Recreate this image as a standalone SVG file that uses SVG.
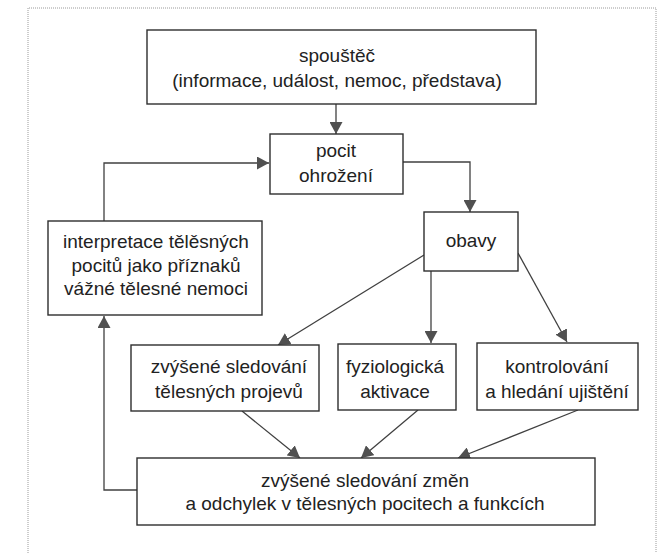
<svg xmlns="http://www.w3.org/2000/svg" width="661" height="553" viewBox="0 0 661 553">
  <style>
    .box { fill: #ffffff; stroke: #2e2e2e; stroke-width: 1.4; }
    .txt { font-family: "Liberation Sans", Arial, sans-serif; font-size: 19px; fill: #222222; text-anchor: middle; }
    .conn { fill: none; stroke: #404040; stroke-width: 1.3; }
    .frame { fill: none; stroke: #9a9a9a; stroke-width: 1; stroke-dasharray: 1 1; }
  </style>
  <defs>
    <marker id="arrow" markerUnits="userSpaceOnUse" viewBox="0 0 12 13" refX="12" refY="6.5" markerWidth="12" markerHeight="13" orient="auto">
      <path d="M0,0 L12,6.5 L0,13 z" fill="#505050"/>
    </marker>
  </defs>
  <rect width="661" height="553" fill="#ffffff"/>
  <path class="frame" d="M28,553 L28,8 L656,8 L656,553"/>

  <g id="connectors">
    <line class="conn" x1="336" y1="104" x2="336" y2="134" marker-end="url(#arrow)"/>
    <polyline class="conn" points="403,162 470,162 470,212" marker-end="url(#arrow)"/>
    <polyline class="conn" points="104,221 104,163 269,163" marker-end="url(#arrow)"/>
    <line class="conn" x1="424" y1="255" x2="278" y2="345" marker-end="url(#arrow)"/>
    <line class="conn" x1="431" y1="271" x2="431" y2="343" marker-end="url(#arrow)"/>
    <line class="conn" x1="518" y1="253" x2="567" y2="342" marker-end="url(#arrow)"/>
    <line class="conn" x1="242" y1="411" x2="300" y2="458" marker-end="url(#arrow)"/>
    <line class="conn" x1="418" y1="410" x2="361" y2="458" marker-end="url(#arrow)"/>
    <line class="conn" x1="578" y1="410" x2="458" y2="458" marker-end="url(#arrow)"/>
    <polyline class="conn" points="137,490 104,490 104,316" marker-end="url(#arrow)"/>
  </g>

  <g id="spoustec">
    <rect class="box" x="147" y="30" width="389" height="74"/>
    <text class="txt" x="337" y="62">spouštěč</text>
    <text class="txt" x="337" y="87">(informace, událost, nemoc, představa)</text>
  </g>

  <g id="pocit-ohrozeni">
    <rect class="box" x="270" y="134" width="133" height="60"/>
    <text class="txt" x="336" y="157">pocit</text>
    <text class="txt" x="336" y="182">ohrožení</text>
  </g>

  <g id="obavy">
    <rect class="box" x="424" y="212" width="94" height="59"/>
    <text class="txt" x="471" y="247">obavy</text>
  </g>

  <g id="interpretace">
    <rect class="box" x="48" y="221" width="214" height="94"/>
    <text class="txt" x="156" y="248">interpretace tělěsných</text>
    <text class="txt" x="156" y="271.5">pocitů jako příznaků</text>
    <text class="txt" x="156" y="295">vážné tělesné nemoci</text>
  </g>

  <g id="sledovani-projevu">
    <rect class="box" x="131" y="345" width="188" height="66"/>
    <text class="txt" x="229" y="373">zvýšené sledování</text>
    <text class="txt" x="229" y="398">tělesných projevů</text>
  </g>

  <g id="fyziologicka-aktivace">
    <rect class="box" x="338" y="344" width="118" height="66"/>
    <text class="txt" x="395" y="373">fyziologická</text>
    <text class="txt" x="395" y="398">aktivace</text>
  </g>

  <g id="kontrolovani">
    <rect class="box" x="477" y="343" width="161" height="67"/>
    <text class="txt" x="557" y="373">kontrolování</text>
    <text class="txt" x="557" y="398">a hledání ujištění</text>
  </g>

  <g id="sledovani-zmen">
    <rect class="box" x="137" y="458" width="458" height="67"/>
    <text class="txt" x="365" y="487">zvýšené sledování změn</text>
    <text class="txt" x="365" y="510">a odchylek v tělesných pocitech a funkcích</text>
  </g>
</svg>
